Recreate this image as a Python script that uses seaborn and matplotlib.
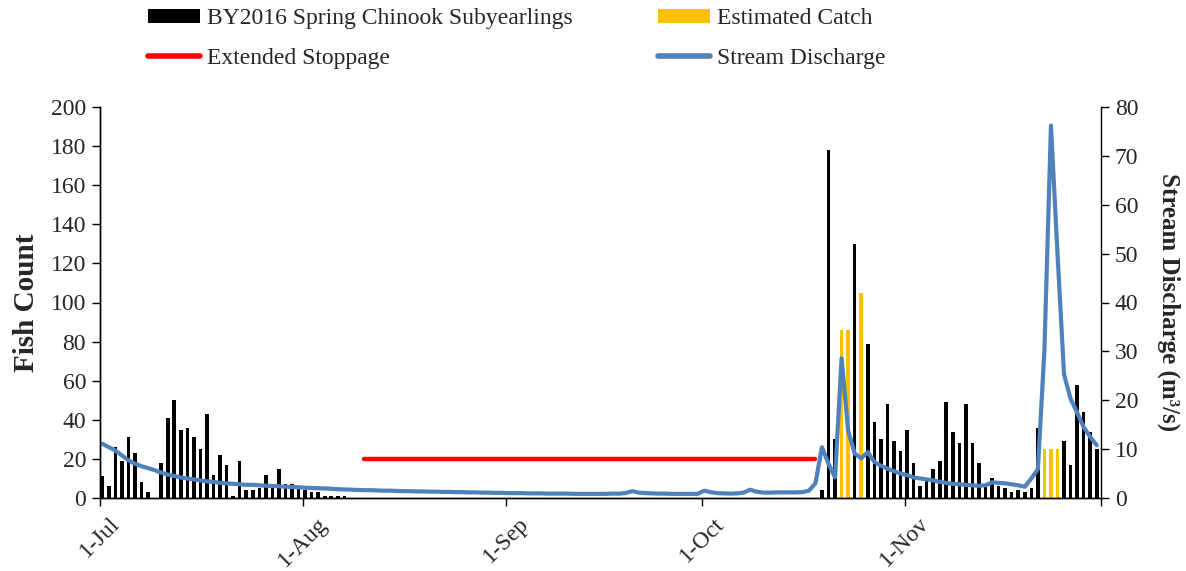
import numpy as np
import pandas as pd
import matplotlib
matplotlib.use("Agg")
import matplotlib.pyplot as plt
import seaborn as sns
from matplotlib.patches import Patch
from matplotlib.lines import Line2D

# ---------------- data (day 0 = 1-Jul) ----------------
jul_days = list(range(0, 38))
jul_counts = [11, 6, 26, 19, 31, 23, 8, 3, 0, 18, 41, 50, 35, 36, 31, 25, 43, 12, 22, 17,
              1, 19, 4, 4, 5, 12, 7, 15, 7, 7, 5, 4, 3, 3, 1, 1, 1, 1]

fall_days = list(range(110, 153))
fall_counts = [4, 178, 30, 0, 0, 130, 0, 79, 39, 30, 48, 29, 24, 35, 18, 6, 9, 15, 19, 49,
               34, 28, 48, 28, 18, 7, 10, 6, 5, 3, 4, 3, 5, 36, 0, 0, 0, 29, 17, 58,
               44, 34, 25]

est_days = [113, 114, 116, 144, 145, 146]
est_counts = [86, 86, 105, 25, 25, 25]

stoppage_days = [40, 109]
stoppage_level = [20, 20]

discharge = [11.1, 10.4, 9.7, 8.7, 7.7, 7.0, 6.5, 6.1, 5.7, 5.2,
             4.8, 4.5, 4.2, 4.0, 3.8, 3.6, 3.4, 3.3, 3.1, 3.0,
             2.9, 2.8, 2.7, 2.7, 2.6, 2.5, 2.45, 2.4, 2.3, 2.25,
             2.2, 2.1, 2.05, 2.0, 1.95, 1.9, 1.8, 1.75, 1.7, 1.65,
             1.6, 1.6, 1.55, 1.5, 1.5, 1.45, 1.4, 1.4, 1.35, 1.35,
             1.3, 1.3, 1.25, 1.25, 1.2, 1.2, 1.15, 1.15, 1.1, 1.1,
             1.05, 1.05, 1.0, 1.0, 1.0, 0.95, 0.95, 0.95, 0.9, 0.9,
             0.9, 0.9, 0.85, 0.85, 0.85, 0.85, 0.85, 0.85, 0.9, 0.9,
             1.0, 1.4, 1.1, 1.0, 0.95, 0.9, 0.9, 0.85, 0.85, 0.85,
             0.85, 0.85, 1.5, 1.2, 1.0, 0.95, 0.9, 0.95, 1.1, 1.7,
             1.3, 1.1, 1.1, 1.15, 1.15, 1.15, 1.15, 1.2, 1.5, 3.0,
             10.4, 7.0, 4.2, 28.6, 13.8, 9.1, 8.1, 9.4, 7.4, 6.6,
             6.0, 5.5, 5.0, 4.7, 4.2, 4.0, 3.8, 3.6, 3.3, 3.1,
             2.9, 2.8, 2.7, 2.6, 2.5, 2.6, 3.2, 3.1, 3.0, 2.8,
             2.6, 2.3, 4.0, 5.9, 30.2, 76.2, 50.0, 25.3, 20.3, 17.5,
             14.5, 12.5, 10.8]
discharge_days = list(range(len(discharge)))

month_starts = [0, 31, 62, 92, 123, 153]
month_labels = ["1-Jul", "1-Aug", "1-Sep", "1-Oct", "1-Nov", ""]

left_ticks = list(range(0, 201, 20))
right_ticks = list(range(0, 81, 10))

# ---------------- style ----------------
sns.set_style("ticks")
plt.rcParams["font.family"] = ["Liberation Serif", "DejaVu Serif"]
plt.rcParams["xtick.direction"] = "out"
plt.rcParams["ytick.direction"] = "out"

BLACK = "#000000"
ORANGE = "#FFC000"
RED = "#FF0000"
BLUE = "#4F81BD"

fig, ax = plt.subplots(figsize=(11.86, 5.71), dpi=100)
fig.subplots_adjust(left=100 / 1186, right=1101 / 1186, bottom=1 - 498 / 571, top=1 - 107 / 571)

bars = pd.DataFrame({"day": jul_days + fall_days, "count": jul_counts + fall_counts})
bars = bars[bars["count"] > 0]
est = pd.DataFrame({"day": est_days, "count": est_counts})

sns.barplot(data=bars, x="day", y="count", native_scale=True, color=BLACK,
            saturation=1, width=0.55, errorbar=None, linewidth=0, ax=ax)
sns.barplot(data=est, x="day", y="count", native_scale=True, color=ORANGE,
            saturation=1, width=0.55, errorbar=None, linewidth=0, ax=ax)
sns.lineplot(x=stoppage_days, y=stoppage_level, color=RED, linewidth=3.2,
             solid_capstyle="round", ax=ax)

ax2 = ax.twinx()
sns.lineplot(x=discharge_days, y=discharge, color=BLUE, linewidth=3.0, ax=ax2)

off = -0.35
ax.set_xlim(off, 153 + off)
ax.set_ylim(0, 200)
ax2.set_ylim(0, 80)
ax.set_xticks([m + off for m in month_starts])
ax.set_xticklabels(month_labels, rotation=45, fontsize=17)
ax.set_yticks(left_ticks)
ax.set_yticklabels([str(t) for t in left_ticks], fontsize=17)
ax2.set_yticks(right_ticks)
ax2.set_yticklabels([str(t) for t in right_ticks], fontsize=17)

for a in (ax, ax2):
    a.tick_params(axis="both", length=6, width=1, color="black", pad=4)
    for s in a.spines.values():
        s.set_color("black")
        s.set_linewidth(1)
    a.spines["top"].set_visible(False)
ax.spines["right"].set_visible(False)
ax2.spines["right"].set_visible(True)
ax.tick_params(axis="x", pad=5)

ax.set_xlabel("")
ax.set_ylabel("Fish Count", fontsize=21, fontweight="bold", labelpad=8)
ax2.set_ylabel("Stream Discharge (m³/s)", fontsize=18, fontweight="bold",
               rotation=270, labelpad=30)

handles = [Patch(facecolor=BLACK, edgecolor="none"),
           Line2D([0], [0], color=RED, linewidth=4),
           Patch(facecolor=ORANGE, edgecolor="none"),
           Line2D([0], [0], color=BLUE, linewidth=4)]
labels = ["BY2016 Spring Chinook Subyearlings", "Extended Stoppage",
          "Estimated Catch", "Stream Discharge"]
fig.legend(handles, labels, loc="upper left", bbox_to_anchor=(148 / 1186, 1 - 8 / 571),
           ncol=2, frameon=False, fontsize=17, handlelength=2.2, handleheight=0.55,
           handletextpad=0.3, columnspacing=3.6, labelspacing=0.8, borderpad=0,
           borderaxespad=0)

fig.savefig("out.png", dpi=100)
